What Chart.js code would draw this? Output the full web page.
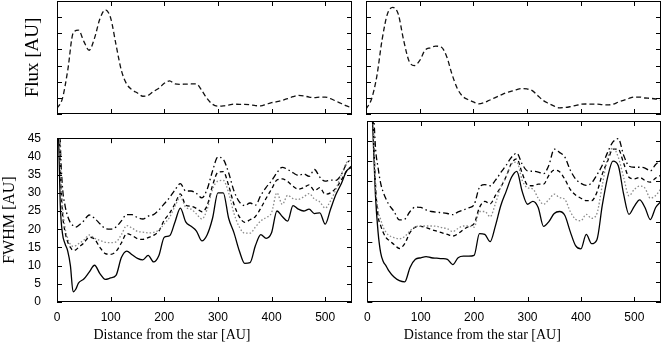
<!DOCTYPE html>
<html>
<head>
<meta charset="utf-8">
<script src="https://cdn.jsdelivr.net/npm/chart.js@4.4.1/dist/chart.umd.min.js"></script>
<style>
  body { margin: 0; background: #fff; }
  #wrap { position: relative; width: 664px; height: 345px; overflow: hidden; }
  canvas { position: absolute; }
</style>
</head>
<body>
<div id="wrap">
  <canvas id="fluxLeft" width="356" height="118" style="left:0;top:0"></canvas>
  <canvas id="fluxRight" width="308" height="118" style="left:356px;top:0"></canvas>
  <canvas id="fwhmLeft" width="356" height="230" style="left:0;top:115px"></canvas>
  <canvas id="fwhmRight" width="308" height="230" style="left:356px;top:115px"></canvas>
</div>
<script>
// tick positions
var distTicks = [0, 100, 200, 300, 400, 500];
var fwhmTicks = [0, 5, 10, 15, 20, 25, 30, 35, 40, 45];
var fluxTicks = [0, 1, 2, 3, 4, 5, 6, 7];
var distTitle = 'Distance from the star [AU]';

// flux profiles (arbitrary units), sampled every 10 AU
var fluxX = [0,10,20,30,40,50,60,70,80,90,100,110,120,130,140,150,160,170,180,190,200,210,220,230,240,250,260,270,280,290,300,310,320,330,340,350,360,370,380,390,400,410,420,430,440,450,460,470,480,490,500,510,520,530,540,550];
var fluxLeft = [0.35,0.95,2.7,5.0,5.2,4.5,3.95,4.7,5.9,6.45, 5.95,4.3,2.7,1.85,1.5,1.3,1.1,1.15,1.4,1.6, 1.9,2.05,1.86,1.84,1.85,1.86,1.86,1.45,0.95,0.6, 0.48,0.5,0.55,0.61,0.6,0.6,0.57,0.52,0.5,0.6, 0.7,0.76,0.85,0.95,1.07,1.15,1.12,1.05,1.02,1.05, 1.05,0.95,0.8,0.65,0.5,0.37];
var fluxRight = [0.3,0.9,2.3,4.6,6.2,6.6,6.2,4.6,3.3,3.0, 3.3,3.95,4.1,4.2,4.15,3.6,2.5,1.6,1.1,0.9, 0.75,0.63,0.7,0.85,1.0,1.15,1.3,1.4,1.5,1.57, 1.55,1.45,1.15,0.85,0.66,0.5,0.38,0.4,0.45,0.52, 0.6,0.62,0.61,0.61,0.58,0.56,0.6,0.73,0.85,0.96, 1.05,1.05,0.99,0.97,0.93,0.86];

// FWHM profiles [AU]
var fwhmX = [0,3,6,10,15,20,25,30,35,40,50,60,70,80,90,100,110,120,130,140,150,160,170,180,190,200,210,220,230,240,250,260,270,280,290,300,310,320,330,340,350,360,370,380,390,400,410,420,430,440,450,460,470,480,490,500,510,520,530,540,550];
var leftSolid = [70,45,27,19,16,14,10,2.8,3.5,5.2, 6.3,8.2,10.1,7.8,6.2, 6.6,7.3,12.2,14,13,12,11.6,12.8,11,12.8, 17.8,18.2,22,25.8,22,20.8,19.5,16.8,18.5,23, 30,30,23,19,14,10.6,10.8,15.5,18.5,17.5, 19,25,23.5,22.2,26.5,25.5,25,25.5,24.3,24.5, 21.4,25.5,29.5,32.5,36,37];
var leftDashDot = [90,70,45,32,26.5,23.5,21.8,21,20.6,21, 22.3,23.9,23,21.5,20.2, 20,20.6,22.3,24,24,23.2,22.8,23.6,24,25.3, 27,28.7,30.8,32.5,30.5,30.5,29.8,28.6,31,36, 39.8,39.2,35.5,30.5,27.5,26.5,27.2,26.6,29.3,31.5, 33.3,35.5,37,36.4,35.5,34.8,35.2,34.5,36.4,34.3, 33.2,33.5,33.4,35,38,39.5];
var leftDashed = [90,60,38,25,19.3,16.5,15,14.2,14.3,15, 16.2,17.8,17.3,15,13.3, 13.1,13.9,16.2,18.8,18.3,17.4,17.2,17.7,18.3,19.5, 22.5,24.4,27,29.7,26.6,26.3,25.7,24.8,26.5,32, 35.6,35.8,32,26.8,23.4,21.9,22.6,23.5,25.8,28.5, 31,33.5,33.8,33.1,31.8,31,31.4,32.2,30.6,31.4, 29.6,30,31.3,33.5,36,37.5];
var leftDotted = [90,60,40,27,20.5,17.5,15.8,15.3,15.5,16, 17,18.4,17.5,16.9,16.4, 16.3,16.5,18.5,21,20.3,19.4,19.2,19,19.1,19.8, 21.5,23.3,26.3,28.9,26,25.5,24.2,22.8,25.5,31, 33.2,33.4,30,24.3,20.6,18.9,18.9,20.6,22.3,23.2, 24.5,30,26.8,29.3,28.4,28.2,28.9,29.8,28.3,27.5, 25.8,27.8,31,35,38.3,39];
var rightSolid = [90,90,60,44,27,17.5,12.2,10,9,7.8, 6.2,5.3,5.0,8.6,10.6, 11,11.3,11,10.9,10.8,10.6,9.3,11,11.4,11.4, 11.6,17,16.8,15,19,24,27.5,31,32.5,27.5, 24.3,25,23.5,18.8,20,22,22.5,21.5,17.5,14, 13.2,16.8,14.5,15.5,24,31,35,33.9,26.8,21.8, 23.8,25.4,23.5,20.5,23.5,25];
var rightDashDot = [90,90,80,55,39,33.5,29.5,27.2,25.6,24.3, 22.5,20.4,20.6,22.5,23.6, 23.5,22.9,22.5,22.3,22.2,22,21.7,22.4,22.9,23.4, 24.2,28.5,29.2,28.9,30.3,32.2,34,36,37,34.3, 32.6,32.5,32.3,31.9,34,38,37.2,36,32.8,30.6, 29.5,29,29.6,31.6,34,37.2,39.8,40.6,36.5,33.8, 33.5,33.5,33.3,32.6,34.2,35.3];
var rightDashed = [90,90,80,50,30,21.5,19,17.2,16,15.4, 14.3,13.3,14.5,17.3,18.6, 18.8,18.5,18,17.6,17.2,16.8,16.4,17,18,18.8, 19.5,23.5,25,24.4,26.5,28.6,31.2,34.5,35.6,32, 29.1,28.9,29.3,29.3,31.5,32.8,32.4,30.5,28,26.6, 25.8,25.2,25.2,27.3,31.8,35,38,38,34.5,31, 30.6,31,30.2,29.8,30.8,31.5];
var rightDotted = [90,90,80,50,30,23,20.5,18.5,17.3,16.6, 16,15.7,16.3,17.7,18.7, 18.9,18.9,18.9,18.8,18.5,18.2,17.5,18.3,18.9,18.9, 18.6,22.5,22.5,21.2,24.5,28.6,31.2,34.3,34.8,30.3, 28.4,28.1,25.8,24.3,25.5,26.8,26,25.5,22.5,20.6, 20.2,21.8,20.8,22,29,35.8,38.3,36,31,26.4, 28,28.8,28.3,25.8,26.5,28.2];

Chart.defaults.color = '#000';
Chart.defaults.font.family = "'Liberation Sans', Arial, sans-serif";
Chart.defaults.font.size = 12;

var serif = "'Liberation Serif', 'Times New Roman', serif";

function pts(xs, ys) {
  return xs.map(function (x, i) { return { x: x, y: ys[i] }; });
}

// gnuplot-like frame with inward ticks on all four sides,
// plus the x caption (sits left of centre in the original)
var frame = {
  id: 'frame',
  afterDraw: function (chart, args, o) {
    var ctx = chart.ctx, a = chart.chartArea;
    var xs = chart.scales.x, ys = chart.scales.y;
    ctx.save();
    ctx.strokeStyle = '#000';
    ctx.lineWidth = 1;
    ctx.strokeRect(Math.round(a.left) + 0.5, Math.round(a.top) + 0.5,
      Math.round(a.width) - 1, Math.round(a.height) - 1);
    ctx.beginPath();
    xs.ticks.forEach(function (t) {
      var p = Math.round(xs.getPixelForValue(t.value)) + 0.5;
      ctx.moveTo(p, a.bottom); ctx.lineTo(p, a.bottom - 5);
      ctx.moveTo(p, a.top); ctx.lineTo(p, a.top + 5);
    });
    ys.ticks.forEach(function (t) {
      var p = Math.round(ys.getPixelForValue(t.value)) + 0.5;
      ctx.moveTo(a.left, p); ctx.lineTo(a.left + 5, p);
      ctx.moveTo(a.right, p); ctx.lineTo(a.right - 5, p);
    });
    ctx.stroke();
    if (o.caption) {
      ctx.fillStyle = '#000';
      ctx.font = '14px ' + serif;
      ctx.textAlign = 'center';
      ctx.textBaseline = 'middle';
      ctx.fillText(o.caption, a.left + 115, chart.height - 10);
    }
    ctx.restore();
  }
};

function line(data, dash, color) {
  return {
    data: data,
    borderColor: color || '#000',
    borderWidth: 1.3,
    borderDash: dash,
    pointRadius: 0,
    cubicInterpolationMode: 'monotone',
    clip: 0
  };
}

function makeChart(id, datasets, opt) {
  return new Chart(document.getElementById(id), {
    type: 'line',
    data: { datasets: datasets },
    plugins: [frame],
    options: {
      responsive: false,
      animation: false,
      layout: { padding: opt.padding },
      plugins: {
        legend: { display: false },
        tooltip: { enabled: false },
        frame: { caption: opt.xLabels ? distTitle : '' }
      },
      scales: {
        x: {
          type: 'linear', min: 0, max: 550,
          afterBuildTicks: function (s) { s.ticks = distTicks.map(function (v) { return { value: v }; }); },
          afterFit: function (s) { s.height = opt.xHeight; },
          grid: { display: false, drawTicks: false },
          border: { display: false },
          ticks: { display: opt.xLabels, padding: 8, maxRotation: 0, font: { size: 12 } }
        },
        y: {
          type: 'linear', min: 0, max: opt.yMax,
          afterBuildTicks: function (s) { s.ticks = opt.yTicks.map(function (v) { return { value: v }; }); },
          afterFit: function (s) { s.width = opt.yWidth; },
          grid: { display: false, drawTicks: false },
          border: { display: false },
          ticks: { display: opt.yLabels, padding: 16, font: { size: 12 } },
          title: {
            display: !!opt.yTitle,
            text: opt.yTitle || '',
            font: { family: serif, size: opt.yTitleSize || 16 },
            padding: { top: opt.yTitlePad || 0, bottom: 0 }
          }
        }
      }
    }
  });
}

// flux panels
makeChart('fluxLeft', [line(pts(fluxX, fluxLeft), [5, 3], '#111')], {
  padding: { top: 1, right: 4, bottom: 0, left: 0 },
  xHeight: 4, yWidth: 57, yMax: 7, yTicks: fluxTicks,
  xLabels: false, yLabels: false, yTitle: 'Flux [AU]', yTitleSize: 19, yTitlePad: 22
});
makeChart('fluxRight', [line(pts(fluxX, fluxRight), [5, 3], '#111')], {
  padding: { top: 1, right: 3, bottom: 0, left: 0 },
  xHeight: 4, yWidth: 10, yMax: 7, yTicks: fluxTicks,
  xLabels: false, yLabels: false
});

// FWHM panels
makeChart('fwhmLeft', [
  line(pts(fwhmX, leftDotted), [1.5, 2], '#8a8a8a'),
  line(pts(fwhmX, leftDashed), [4, 3]),
  line(pts(fwhmX, leftDashDot), [6, 3, 1.5, 3]),
  line(pts(fwhmX, leftSolid), [])
], {
  padding: { top: 6, right: 4, bottom: 0, left: 0 },
  xHeight: 43, yWidth: 57, yMax: 45, yTicks: fwhmTicks,
  xLabels: true, yLabels: true, yTitle: 'FWHM [AU]', yTitleSize: 16
});
makeChart('fwhmRight', [
  line(pts(fwhmX, rightDotted), [1.5, 2], '#8a8a8a'),
  line(pts(fwhmX, rightDashed), [4, 3]),
  line(pts(fwhmX, rightDashDot), [6, 3, 1.5, 3]),
  line(pts(fwhmX, rightSolid), [])
], {
  padding: { top: 6, right: 3, bottom: 0, left: 0 },
  xHeight: 43, yWidth: 10, yMax: 45, yTicks: fwhmTicks,
  xLabels: true, yLabels: false
});
</script>
</body>
</html>
